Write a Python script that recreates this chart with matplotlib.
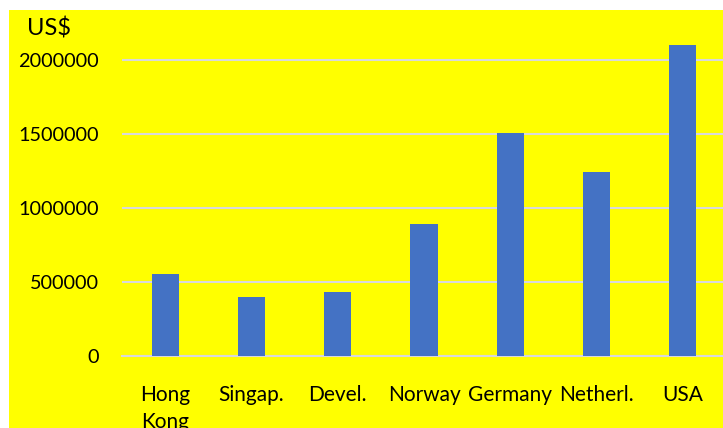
import matplotlib
matplotlib.use("Agg")
import matplotlib.pyplot as plt
from matplotlib.patches import Rectangle

countries = ["Hong\nKong", "Singap.", "Devel.", "Norway", "Germany", "Netherl.", "USA"]
values = [554000, 399000, 430000, 890000, 1510000, 1240000, 2100000]
yticks = [0, 500000, 1000000, 1500000, 2000000]

plt.rcParams["font.family"] = ["Lato", "DejaVu Sans"]

W, H = 723, 428
fig = plt.figure(figsize=(W / 100, H / 100), dpi=100)
fig.patch.set_facecolor("white")
# yellow panel, leaves a thin white strip on the left and top
fig.patches.append(Rectangle((9 / W, 0), 1 - 9 / W, (H - 10) / H,
                             transform=fig.transFigure, facecolor="#FFFF00",
                             edgecolor="none", zorder=-10))

ax_left, ax_right = 122, 726
ax_bottom, ax_top = 356, 30.4
ax = fig.add_axes([ax_left / W, (H - ax_bottom) / H,
                   (ax_right - ax_left) / W, (ax_bottom - ax_top) / H])
ax.set_facecolor("none")

x = range(len(countries))
ax.bar(x, values, width=0.313, color="#4472C4", zorder=3)

ax.set_xlim(-0.5, len(countries) - 0.5)
ax.set_ylim(0, 2200000)
ax.set_yticks(yticks)
ax.set_yticklabels([str(v) for v in yticks], fontsize=14.3)
ax.set_xticks(list(x))
ax.set_xticklabels(countries, fontsize=15, linespacing=1.42, va="top")
ax.tick_params(axis="both", length=0)
ax.tick_params(axis="y", pad=16.5)
ax.tick_params(axis="x", pad=21)
ax.grid(axis="y", color="#D9D9D9", linewidth=1.5, zorder=1)
ax.axhline(0, color="#D9D9D9", linewidth=1.5, zorder=2, clip_on=False)
for s in ax.spines.values():
    s.set_visible(False)

fig.text(27 / W, 1 - 36 / H, "US$", fontsize=17, ha="left", va="baseline")

fig.savefig("out.png", dpi=100)
